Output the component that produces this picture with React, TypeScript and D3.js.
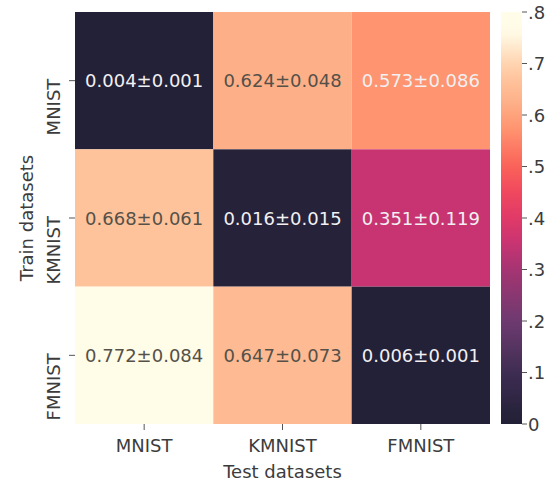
import React from "react";
import * as d3 from "d3";

const trainSets = ["MNIST", "KMNIST", "FMNIST"];
const testSets = ["MNIST", "KMNIST", "FMNIST"];

// mean ± std per (train row, test column)
const means = [
  [0.004, 0.624, 0.573],
  [0.668, 0.016, 0.351],
  [0.772, 0.647, 0.006],
];
const stds = [
  [0.001, 0.048, 0.086],
  [0.061, 0.015, 0.119],
  [0.084, 0.073, 0.001],
];

const colorTicks = [0, 0.1, 0.2, 0.3, 0.4, 0.5, 0.6, 0.7, 0.8];
const colorTickLabels = ["0", ".1", ".2", ".3", ".4", ".5", ".6", ".7", ".8"];

// rocket-like colormap as it appears in the picture
const cmapStops = [0, 0.1, 0.2, 0.3, 0.35, 0.4, 0.45, 0.5, 0.573, 0.624, 0.668, 0.7, 0.76, 0.8];
const cmapColors = [
  "#212036", "#3e2d52", "#6e3a70", "#a53472", "#c83472", "#e03a68", "#f0485f",
  "#fa6258", "#ff9470", "#fdb088", "#ffc39b", "#ffd4b0", "#fffbe7", "#fffde9",
];

const W = 556;
const H = 486;
const font = "DejaVu Sans";

export default function App() {
  const x = d3.scaleBand().domain(testSets).range([75, 490]);
  const y = d3.scaleBand().domain(trainSets).range([12, 424]);
  const color = d3
    .scaleLinear<string>()
    .domain(cmapStops)
    .range(cmapColors)
    .interpolate(d3.interpolateRgb)
    .clamp(true);
  const cb = d3.scaleLinear().domain([0, 0.8]).range([424, 12]);
  const cbX = 501;
  const cbW = 21;

  const gradStops = d3.range(0, 1.0001, 0.02);

  return (
    <svg
      width={W}
      height={H}
      style={{ position: "absolute", left: 0, top: 0, background: "#fff" }}
      fontFamily={font}
    >
      <defs>
        <linearGradient id="cbar" x1="0" y1="1" x2="0" y2="0">
          {gradStops.map((t) => (
            <stop key={t} offset={t} stopColor={color(t * 0.8)} />
          ))}
        </linearGradient>
      </defs>

      {/* cells */}
      {trainSets.map((tr, i) =>
        testSets.map((te, j) => {
          const v = means[i][j];
          const light = v > 0.6;
          return (
            <g key={tr + te}>
              <rect
                x={x(te)}
                y={y(tr)}
                width={x.bandwidth()}
                height={y.bandwidth()}
                fill={color(v)}
              />
              <text
                x={(x(te) as number) + x.bandwidth() / 2}
                y={(y(tr) as number) + y.bandwidth() / 2}
                textAnchor="middle"
                dominantBaseline="central"
                fontSize={18}
                fill={light ? "#555149" : "#f2f0f2"}
              >
                {v.toFixed(3)}±{stds[i][j].toFixed(3)}
              </text>
            </g>
          );
        })
      )}

      {/* x axis */}
      {testSets.map((te) => {
        const cx = (x(te) as number) + x.bandwidth() / 2;
        return (
          <g key={"x" + te}>
            <line x1={cx} x2={cx} y1={424} y2={430} stroke="#555" strokeWidth={1} />
            <text x={cx} y={452} textAnchor="middle" fontSize={18} fill="#3c3c3c">
              {te}
            </text>
          </g>
        );
      })}
      <text x={(75 + 490) / 2} y={478} textAnchor="middle" fontSize={18} fill="#3c3c3c">
        Test datasets
      </text>

      {/* y axis */}
      {trainSets.map((tr) => {
        const cy = (y(tr) as number) + y.bandwidth() / 2;
        return (
          <g key={"y" + tr}>
            <line x1={69} x2={75} y1={cy} y2={cy} stroke="#555" strokeWidth={1} />
            <text
              transform={`translate(60,${cy - 2}) rotate(-90)`}
              textAnchor="end"
              fontSize={18}
              fill="#3c3c3c"
            >
              {tr}
            </text>
          </g>
        );
      })}
      <text
        transform={`translate(33,${(12 + 424) / 2}) rotate(-90)`}
        textAnchor="middle"
        fontSize={18}
        fill="#3c3c3c"
      >
        Train datasets
      </text>

      {/* colorbar */}
      <rect x={cbX} y={cb(0.8)} width={cbW} height={cb(0) - cb(0.8)} fill="url(#cbar)" />
      {colorTicks.map((t, k) => (
        <g key={"c" + t}>
          <line x1={cbX + cbW} x2={cbX + cbW + 5} y1={cb(t)} y2={cb(t)} stroke="#555" />
          <text
            x={cbX + cbW + 6}
            y={cb(t)}
            dominantBaseline="central"
            fontSize={18}
            fill="#3c3c3c"
          >
            {colorTickLabels[k]}
          </text>
        </g>
      ))}
    </svg>
  );
}
